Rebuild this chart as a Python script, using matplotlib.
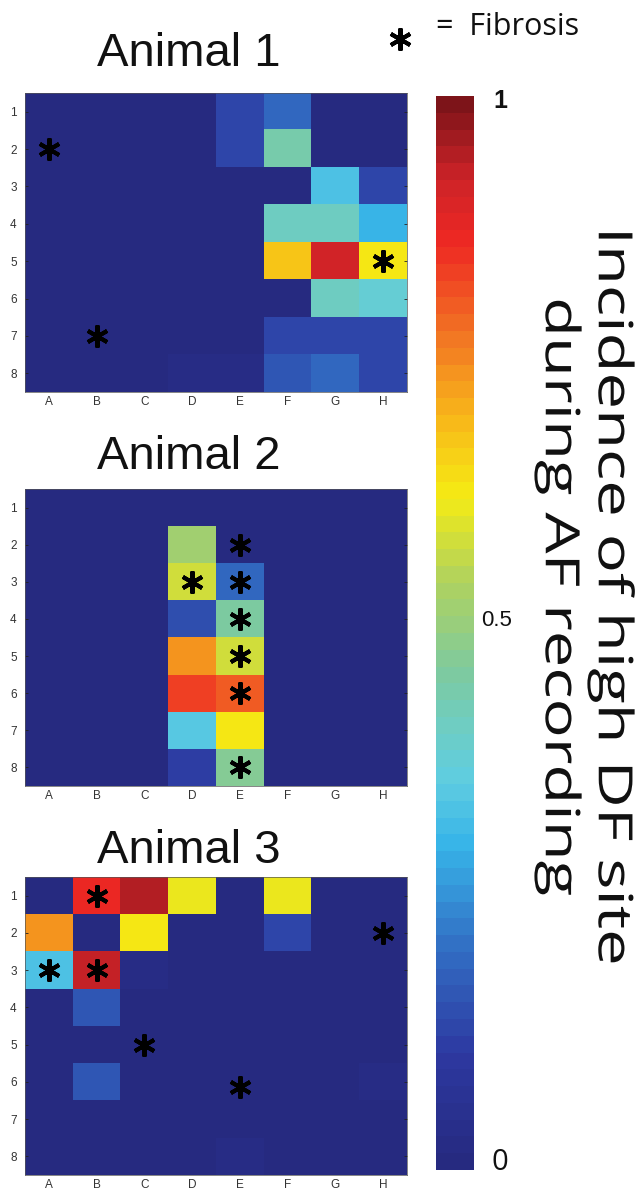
import numpy as np
import matplotlib
matplotlib.use("Agg")
import matplotlib.pyplot as plt
from matplotlib.colors import LinearSegmentedColormap, ListedColormap
from matplotlib.patheffects import AbstractPathEffect
from matplotlib.transforms import Affine2D, blended_transform_factory

# ---- data: incidence of high-DF site per electrode (rows 1-8, columns A-H)
columns = ["A", "B", "C", "D", "E", "F", "G", "H"]
rows = ["1", "2", "3", "4", "5", "6", "7", "8"]
titles = ["Animal 1", "Animal 2", "Animal 3"]

animal1 = [
    [0, 0, 0, 0, 0.14, 0.20, 0, 0],
    [0, 0, 0, 0, 0.14, 0.45, 0, 0],
    [0, 0, 0, 0, 0, 0, 0.33, 0.14],
    [0, 0, 0, 0, 0, 0.41, 0.41, 0.31],
    [0, 0, 0, 0, 0, 0.68, 0.92, 0.63],
    [0, 0, 0, 0, 0, 0, 0.41, 0.38],
    [0, 0, 0, 0, 0, 0.14, 0.14, 0.13],
    [0, 0, 0, 0.03, 0.03, 0.17, 0.20, 0.14],
]
animal2 = [
    [0, 0, 0, 0, 0, 0, 0, 0],
    [0, 0, 0, 0.53, 0, 0, 0, 0],
    [0, 0, 0, 0.58, 0.20, 0, 0, 0],
    [0, 0, 0, 0.15, 0.46, 0, 0, 0],
    [0, 0, 0, 0.74, 0.58, 0, 0, 0],
    [0, 0, 0, 0.84, 0.80, 0, 0, 0],
    [0, 0, 0, 0.35, 0.64, 0, 0, 0],
    [0, 0, 0, 0.12, 0.47, 0, 0, 0],
]
animal3 = [
    [0, 0.87, 0.94, 0.61, 0, 0.61, 0, 0],
    [0.74, 0, 0.64, 0, 0, 0.14, 0, 0],
    [0.34, 0.93, 0.02, 0, 0, 0, 0, 0],
    [0, 0.16, 0, 0, 0, 0, 0, 0],
    [0, 0, 0, 0, 0, 0, 0, 0],
    [0, 0.16, 0, 0, 0, 0, 0, 0.02],
    [0, 0, 0, 0, 0, 0, 0, 0],
    [0, 0, 0, 0, 0.02, 0, 0, 0],
]

# fibrosis sites: (column index, row number)
fibrosis1 = [(0, 2), (1, 7), (7, 5)]
fibrosis2 = [(3, 3), (4, 2), (4, 3), (4, 4), (4, 5), (4, 6), (4, 8)]
fibrosis3 = [(1, 1), (0, 3), (1, 3), (7, 2), (2, 5), (4, 6.15)]

cbar_ticks = [0, 0.5, 1]
cbar_ticklabels = ["0", "0.5", "1"]
cbar_label = "Incidence of high DF site\nduring AF recording"

# ---- muted jet-like colour map, 64 steps
anchors = [
    (0.00, (38, 42, 128)),
    (0.10, (45, 56, 160)),
    (0.20, (50, 110, 196)),
    (0.30, (55, 180, 232)),
    (0.36, (95, 205, 225)),
    (0.41, (110, 205, 195)),
    (0.46, (125, 202, 160)),
    (0.55, (175, 210, 95)),
    (0.63, (245, 235, 20)),
    (0.70, (248, 185, 25)),
    (0.78, (242, 120, 35)),
    (0.87, (238, 40, 35)),
    (0.93, (205, 35, 40)),
    (1.00, (125, 20, 25)),
]
base = LinearSegmentedColormap.from_list(
    "mutedjet", [(p, tuple(c / 255 for c in rgb)) for p, rgb in anchors])
cmap = ListedColormap(base(np.linspace(0, 1, 64)))


class Stretch(AbstractPathEffect):
    """Widen glyph runs along the reading direction about their centre."""

    def __init__(self, sx):
        super().__init__()
        self.sx = sx

    def draw_path(self, renderer, gc, tpath, affine, rgbFace=None):
        ext = tpath.get_extents()
        cx = 0.5 * (ext.x0 + ext.x1)
        pre = Affine2D().translate(-cx, 0).scale(self.sx, 1).translate(cx, 0)
        renderer.draw_path(gc, tpath, pre + affine, rgbFace)


W, H = 643, 1192
fig = plt.figure(figsize=(W / 100, H / 100), dpi=100)
fig.patch.set_facecolor("white")


def fx(px):
    return px / W


def fy(py):
    return 1 - py / H


panels = [
    (animal1, fibrosis1, 93, 392, 66),
    (animal2, fibrosis2, 489, 786, 469),
    (animal3, fibrosis3, 877, 1175, 863),
]
left_px, right_px = 25, 407

for (data, fib, top, bottom, title_base), title in zip(panels, titles):
    ax = fig.add_axes([fx(left_px), fy(bottom), fx(right_px - left_px),
                       (bottom - top) / H])
    arr = np.array(data, dtype=float)
    ax.imshow(arr, cmap=cmap, vmin=0, vmax=1, aspect="auto",
              interpolation="nearest", extent=(0.5, 8.5, 8.5, 0.5))
    ax.set_xlim(0.5, 8.5)
    ax.set_ylim(8.5, 0.5)
    ax.set_xticks(range(1, 9))
    ax.set_xticklabels(columns)
    ax.set_yticks(range(1, 9))
    ax.set_yticklabels(rows)
    ax.tick_params(axis="y", direction="in", length=2.5, width=0.6,
                   color="#222222", labelsize=8.5, labelcolor="#333333",
                   pad=6, left=True, right=True)
    ax.tick_params(axis="x", direction="in", length=0, labelsize=8.5,
                   labelcolor="#333333", pad=3, top=False, bottom=False)
    for lab in ax.get_xticklabels() + ax.get_yticklabels():
        lab.set_fontfamily("Liberation Sans")
    for sp in ax.spines.values():
        sp.set_linewidth(0.5)
        sp.set_color("#555555")
    xs = [c + 1 for c, r in fib]
    ys = [r for c, r in fib]
    ax.plot(xs, ys, linestyle="none", marker=(6, 2, 0), markersize=16,
            markeredgewidth=2.9, color="black")
    fig.text(fx(189), fy(title_base), title, ha="center", va="baseline",
             fontsize=34, family="Liberation Sans", color="#111111")

# colour bar
cax = fig.add_axes([fx(436), fy(1170), fx(38), (1170 - 96) / H])
sm = matplotlib.cm.ScalarMappable(norm=matplotlib.colors.Normalize(0, 1),
                                  cmap=cmap)
cb = fig.colorbar(sm, cax=cax)
cb.outline.set_visible(False)
cb.set_ticks([])
tr = blended_transform_factory(cax.transAxes, cax.transData)
label_style = {
    "0": dict(x=1.45, dy=0.007, fontsize=21, family="Open Sans", weight="normal"),
    "0.5": dict(x=1.2, dy=0.012, fontsize=16, family="Liberation Sans", weight="normal"),
    "1": dict(x=1.5, dy=-0.005, fontsize=18, family="Liberation Sans", weight="bold"),
}
for v, lab in zip(cbar_ticks, cbar_ticklabels):
    st = label_style[lab]
    cax.text(st["x"], v + st["dy"], lab, transform=tr, ha="left",
             va="center", fontsize=st["fontsize"], family=st["family"],
             weight=st["weight"], color="#111111")

lbl = fig.text(fx(585), fy(597), cbar_label, rotation=270, ha="center",
               va="center", multialignment="center", fontsize=34,
               family="Open Sans", color="#111111", linespacing=1.15)
lbl.set_path_effects([Stretch(1.38)])

# fibrosis key
fig.lines.append(matplotlib.lines.Line2D(
    [fx(400)], [fy(39)], transform=fig.transFigure, linestyle="none",
    marker=(6, 2, 0), markersize=16, markeredgewidth=2.9, color="black"))
fig.text(fx(436), fy(27), "=  Fibrosis", ha="left", va="center",
         fontsize=22, family="Open Sans", color="#111111")

fig.savefig("out.png", dpi=100, facecolor="white")
